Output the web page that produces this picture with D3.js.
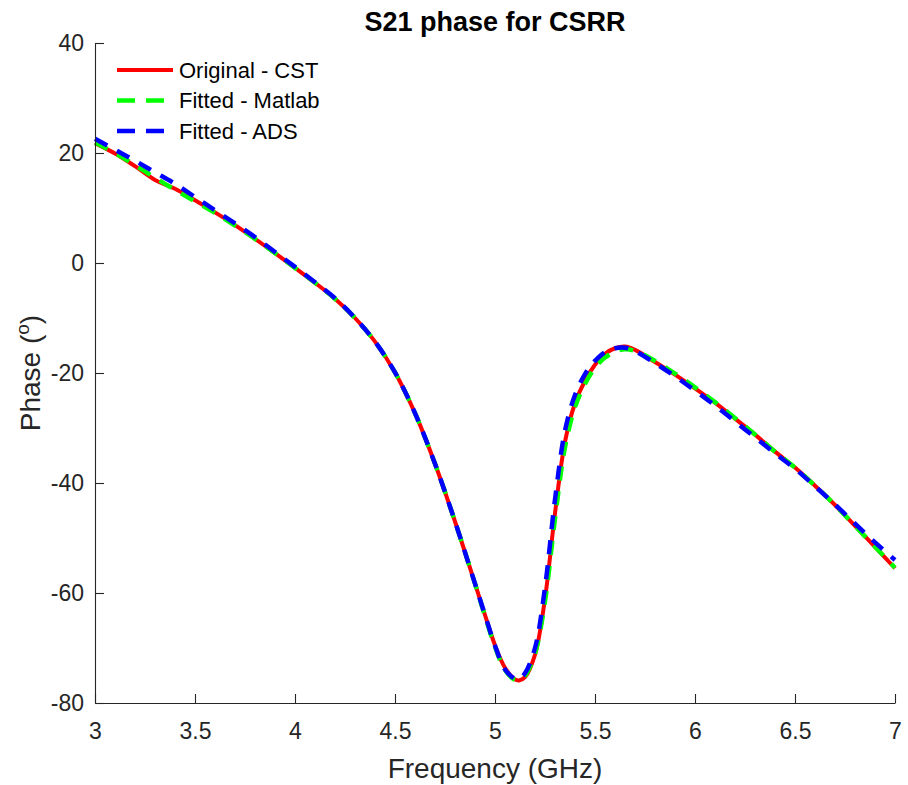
<!DOCTYPE html>
<html>
<head>
<meta charset="utf-8">
<script src="https://cdn.jsdelivr.net/npm/d3@7"></script>
<style>
  body { margin: 0; background: #fff; }
  text { font-family: "Liberation Sans", Arial, Helvetica, sans-serif; fill: #262626; }
  .tick text { font-size: 23px; }
  .title { font-size: 27px; font-weight: bold; fill: #000; }
  .axis-label { font-size: 28px; }
  .legend-label { font-size: 22px; fill: #000; }
</style>
</head>
<body>
<div id="wrapper"></div>
<script>
// frequency samples (GHz)
const freq = [3.0, 3.1, 3.2, 3.3, 3.4, 3.5, 3.6, 3.7, 3.8, 3.9, 4.0, 4.1, 4.2, 4.3, 4.4, 4.5,
  4.6, 4.7, 4.8, 4.9, 4.95, 5.0, 5.05, 5.1, 5.12, 5.15, 5.2, 5.25, 5.3, 5.35, 5.4, 5.45, 5.5,
  5.55, 5.6, 5.65, 5.7, 5.8, 5.9, 6.0, 6.1, 6.2, 6.3, 6.4, 6.5, 6.6, 6.7, 6.8, 6.9, 7.0]

const phaseCST = [21.8, 19.9, 17.6, 15.1, 13.5, 11.4, 9.2, 6.9, 4.4, 1.8, -0.9, -3.6, -6.5, -10.0, -14.3, -19.9,
  -27.3, -36.5, -47.0, -58.3, -64.0, -69.5, -73.6, -75.7, -75.9, -75.3, -71.2, -61.0, -45.5, -32.5, -25.5, -21.4, -18.5,
  -16.5, -15.5, -15.2, -15.8, -18.0, -20.3, -22.8, -25.4, -28.3, -31.2, -34.3, -37.2, -40.5, -44.0, -47.8, -51.6, -55.5]

const phaseMatlab = [21.9, 20.0, 17.8, 15.5, 13.3, 11.2, 9.1, 6.8, 4.4, 1.8, -0.9, -3.6, -6.5, -10.0, -14.3, -19.9,
  -27.3, -36.5, -47.0, -58.3, -64.2, -69.8, -74.0, -75.8, -75.8, -75.0, -71.0, -61.5, -46.5, -33.5, -26.2, -22.0, -19.0,
  -17.2, -16.1, -15.7, -16.0, -17.8, -20.1, -22.6, -25.3, -28.2, -31.2, -34.3, -37.2, -40.5, -44.0, -47.8, -51.6, -55.4]

const phaseADS = [22.6, 20.6, 18.6, 16.5, 14.4, 12.0, 9.6, 7.2, 4.7, 2.0, -0.7, -3.5, -6.4, -10.0, -14.3, -19.9,
  -27.3, -36.5, -47.0, -58.3, -64.0, -69.6, -73.9, -75.6, -75.6, -74.6, -70.0, -59.0, -43.0, -30.5, -24.0, -20.2, -17.8,
  -16.2, -15.5, -15.4, -16.0, -18.2, -20.6, -23.2, -25.9, -28.8, -31.7, -34.6, -37.4, -40.6, -43.9, -47.4, -50.8, -54.0]

const seriesNames = ["Original - CST", "Fitted - Matlab", "Fitted - ADS"]
const xTicks = [3, 3.5, 4, 4.5, 5, 5.5, 6, 6.5, 7]
const yTicks = [-80, -60, -40, -20, 0, 20, 40]

let dimensions = {
  width: 908,
  height: 785,
  margin: { top: 43, right: 13, bottom: 82, left: 95 },
}
dimensions.boundedWidth = dimensions.width - dimensions.margin.left - dimensions.margin.right
dimensions.boundedHeight = dimensions.height - dimensions.margin.top - dimensions.margin.bottom

const wrapper = d3.select("#wrapper")
  .append("svg")
    .attr("width", dimensions.width)
    .attr("height", dimensions.height)

const bounds = wrapper.append("g")
    .attr("transform", `translate(${dimensions.margin.left}, ${dimensions.margin.top})`)

const xScale = d3.scaleLinear()
  .domain([3, 7])
  .range([0, dimensions.boundedWidth])

const yScale = d3.scaleLinear()
  .domain([-80, 40])
  .range([dimensions.boundedHeight, 0])

// curves
const series = [
  { name: seriesNames[0], values: phaseCST, color: "#ff0000", dash: null, width: 4 },
  { name: seriesNames[1], values: phaseMatlab, color: "#00ff00", dash: "14,11", width: 4.5 },
  { name: seriesNames[2], values: phaseADS, color: "#0000ff", dash: "14,11", width: 4.5 },
]

const lineGenerator = d3.line()
  .x(d => xScale(d[0]))
  .y(d => yScale(d[1]))
  .curve(d3.curveCatmullRom.alpha(0.5))

series.forEach(s => {
  bounds.append("path")
      .attr("d", lineGenerator(freq.map((f, i) => [f, s.values[i]])))
      .attr("fill", "none")
      .attr("stroke", s.color)
      .attr("stroke-width", s.width)
      .attr("stroke-dasharray", s.dash)
})

// axes (ticks inward like matlab, plain hyphen minus)
const xAxisGenerator = d3.axisBottom(xScale)
  .tickValues(xTicks)
  .tickSizeInner(-9)
  .tickSizeOuter(0)
  .tickPadding(20)
  .tickFormat(d => String(d))

const xAxis = bounds.append("g")
    .attr("transform", `translate(0, ${dimensions.boundedHeight})`)
    .call(xAxisGenerator)

const yAxisGenerator = d3.axisLeft(yScale)
  .tickValues(yTicks)
  .tickSizeInner(-9)
  .tickSizeOuter(0)
  .tickPadding(11)
  .tickFormat(d => String(d))

const yAxis = bounds.append("g")
    .call(yAxisGenerator)

bounds.selectAll(".domain, .tick line")
    .attr("stroke", "#262626")
    .attr("stroke-width", 1.1)
bounds.selectAll(".tick text").attr("fill", "#262626")

// labels
wrapper.append("text")
    .attr("class", "title")
    .attr("x", dimensions.margin.left + dimensions.boundedWidth / 2)
    .attr("y", 31)
    .attr("text-anchor", "middle")
    .text("S21 phase for CSRR")

wrapper.append("text")
    .attr("class", "axis-label")
    .attr("x", dimensions.margin.left + dimensions.boundedWidth / 2)
    .attr("y", 778)
    .attr("text-anchor", "middle")
    .text("Frequency (GHz)")

const yLabel = wrapper.append("text")
    .attr("class", "axis-label")
    .attr("transform", `translate(40, ${dimensions.margin.top + dimensions.boundedHeight / 2}) rotate(-90)`)
    .attr("text-anchor", "middle")
yLabel.append("tspan").text("Phase (")
yLabel.append("tspan").attr("dy", -11).attr("font-size", 19).text("o")
yLabel.append("tspan").attr("dy", 11).text(")")

// legend
const legend = bounds.append("g")
    .attr("transform", "translate(22, 27)")

series.forEach((s, i) => {
  const row = legend.append("g")
      .attr("transform", `translate(0, ${i * 30.5})`)
  row.append("line")
      .attr("x1", 0)
      .attr("x2", 56)
      .attr("stroke", s.color)
      .attr("stroke-width", s.width)
      .attr("stroke-dasharray", s.dash ? "18,11" : null)
  row.append("text")
      .attr("class", "legend-label")
      .attr("x", 62)
      .attr("dy", "0.35em")
      .text(s.name)
})
</script>
</body>
</html>
